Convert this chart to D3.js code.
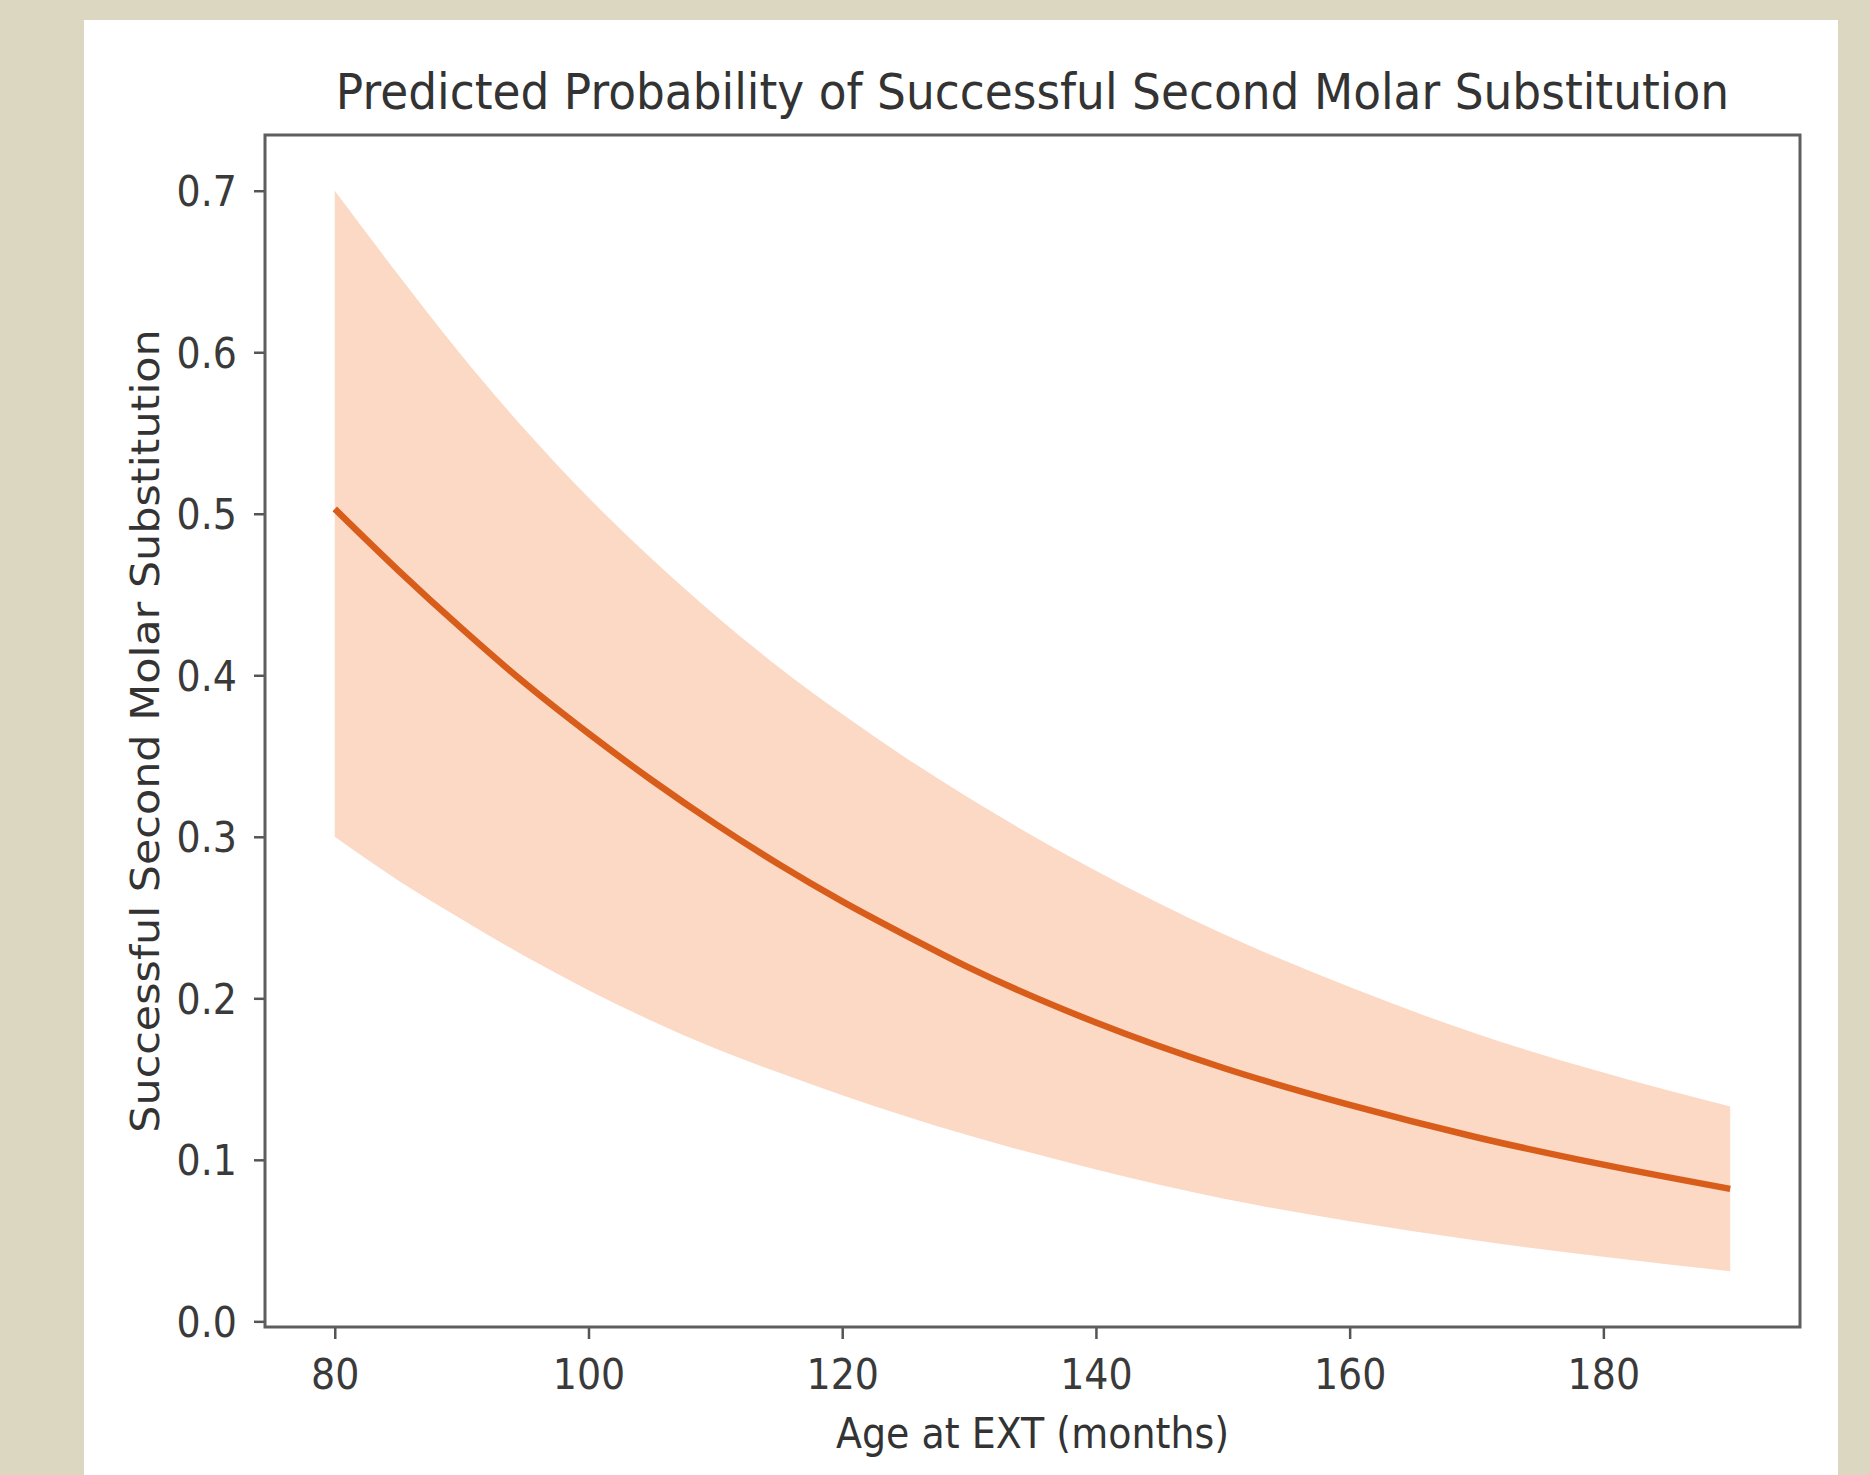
<!DOCTYPE html>
<html>
<head>
<meta charset="utf-8">
<script src="https://cdn.jsdelivr.net/npm/d3@7"></script>
<style>
  html, body { margin: 0; padding: 0; background: #dcd7c1; }
  svg { display: block; }
  text { font-family: "DejaVu Sans", sans-serif; fill: #333; }
</style>
</head>
<body>
<svg id="chart" width="1870" height="1475"></svg>
<script>
// ---- data ----
const ages  = [80, 85, 90, 95, 100, 105, 110, 115, 120, 125, 130, 140, 150, 160, 170, 180, 190];
const prob  = [0.503, 0.465, 0.429, 0.395, 0.364, 0.335, 0.308, 0.283, 0.260, 0.239, 0.219, 0.185, 0.157, 0.134, 0.114, 0.097, 0.082];
const upper = [0.700, 0.648, 0.598, 0.552, 0.510, 0.472, 0.437, 0.405, 0.376, 0.349, 0.324, 0.279, 0.240, 0.207, 0.178, 0.154, 0.133];
const lower = [0.300, 0.273, 0.249, 0.226, 0.205, 0.186, 0.169, 0.154, 0.140, 0.127, 0.115, 0.094, 0.076, 0.062, 0.050, 0.040, 0.031];
const xTicks = [80, 100, 120, 140, 160, 180];
const yTicks = [0.0, 0.1, 0.2, 0.3, 0.4, 0.5, 0.6, 0.7];
const titleText = "Predicted Probability of Successful Second Molar Substitution";
const xLabelText = "Age at EXT (months)";
const yLabelText = "Successful Second Molar Substitution";

// ---- layout ----
const W = 1870, H = 1475;
const plot = { left: 265, right: 1800, top: 135, bottom: 1327 };
const vs = 1.1; // vertical text stretch seen in the reference
const svg = d3.select("#chart");

// beige background + white panel
svg.append("rect").attr("width", W).attr("height", H).attr("fill", "#dcd7c1");
svg.append("rect").attr("x", 84).attr("y", 20).attr("width", 1838 - 84).attr("height", H - 20).attr("fill", "#ffffff");

const data = ages.map((a, i) => ({ a, p: prob[i], lo: lower[i], hi: upper[i] }));

// scales with matplotlib-like 5% x margins
const xMin = d3.min(ages), xMax = d3.max(ages);
const xPad = (xMax - xMin) * 0.05;
const x = d3.scaleLinear().domain([xMin - xPad, xMax + xPad]).range([plot.left, plot.right]);
const y = d3.scaleLinear().domain([-0.0035, 0.7345]).range([plot.bottom, plot.top]);

// band
const area = d3.area()
  .x(d => x(d.a)).y0(d => y(d.lo)).y1(d => y(d.hi))
  .curve(d3.curveMonotoneX);
svg.append("path").datum(data).attr("d", area).attr("fill", "#fbd9c5");

// line
const line = d3.line().x(d => x(d.a)).y(d => y(d.p)).curve(d3.curveMonotoneX);
svg.append("path").datum(data).attr("d", line)
  .attr("fill", "none").attr("stroke", "#d95d1a").attr("stroke-width", 6.5);

// axes (ticks only, frame drawn separately)
const gx = svg.append("g").attr("transform", `translate(0,${plot.bottom})`)
  .call(d3.axisBottom(x).tickValues(xTicks).tickSize(12).tickFormat(d3.format("d")));
gx.select(".domain").remove();
gx.selectAll(".tick line").attr("stroke", "#555").attr("stroke-width", 2.5);
gx.selectAll(".tick text").remove();
gx.selectAll(".tick").append("text")
  .attr("text-anchor", "middle")
  .attr("transform", `translate(0,62) scale(1,${vs})`)
  .attr("font-size", 38).style("fill", "#3a3a3a")
  .text(d => d3.format("d")(d));

const gy = svg.append("g").attr("transform", `translate(${plot.left},0)`)
  .call(d3.axisLeft(y).tickValues(yTicks).tickSize(11));
gy.select(".domain").remove();
gy.selectAll(".tick line").attr("stroke", "#555").attr("stroke-width", 2.5);
gy.selectAll(".tick text").remove();
gy.selectAll(".tick").append("text")
  .attr("text-anchor", "end")
  .attr("transform", `translate(-28,0) scale(1,${vs})`)
  .attr("dy", "0.36em")
  .attr("font-size", 38).style("fill", "#3a3a3a")
  .text(d => d3.format(".1f")(d));

// frame
svg.append("rect")
  .attr("x", plot.left).attr("y", plot.top)
  .attr("width", plot.right - plot.left).attr("height", plot.bottom - plot.top)
  .attr("fill", "none").attr("stroke", "#5e5e5e").attr("stroke-width", 3);

// title
const cx = (plot.left + plot.right) / 2;
svg.append("text")
  .attr("text-anchor", "middle")
  .attr("transform", `translate(${cx},109) scale(1,${vs})`)
  .attr("font-size", 45.5)
  .text(titleText);

// x label
svg.append("text")
  .attr("text-anchor", "middle")
  .attr("transform", `translate(${cx},1448) scale(1,${vs})`)
  .attr("font-size", 38)
  .text(xLabelText);

// y label
svg.append("text")
  .attr("text-anchor", "middle")
  .attr("transform", `translate(159,${(plot.top + plot.bottom) / 2}) rotate(-90) scale(${vs},1)`)
  .attr("font-size", 39)
  .text(yLabelText);
</script>
</body>
</html>
